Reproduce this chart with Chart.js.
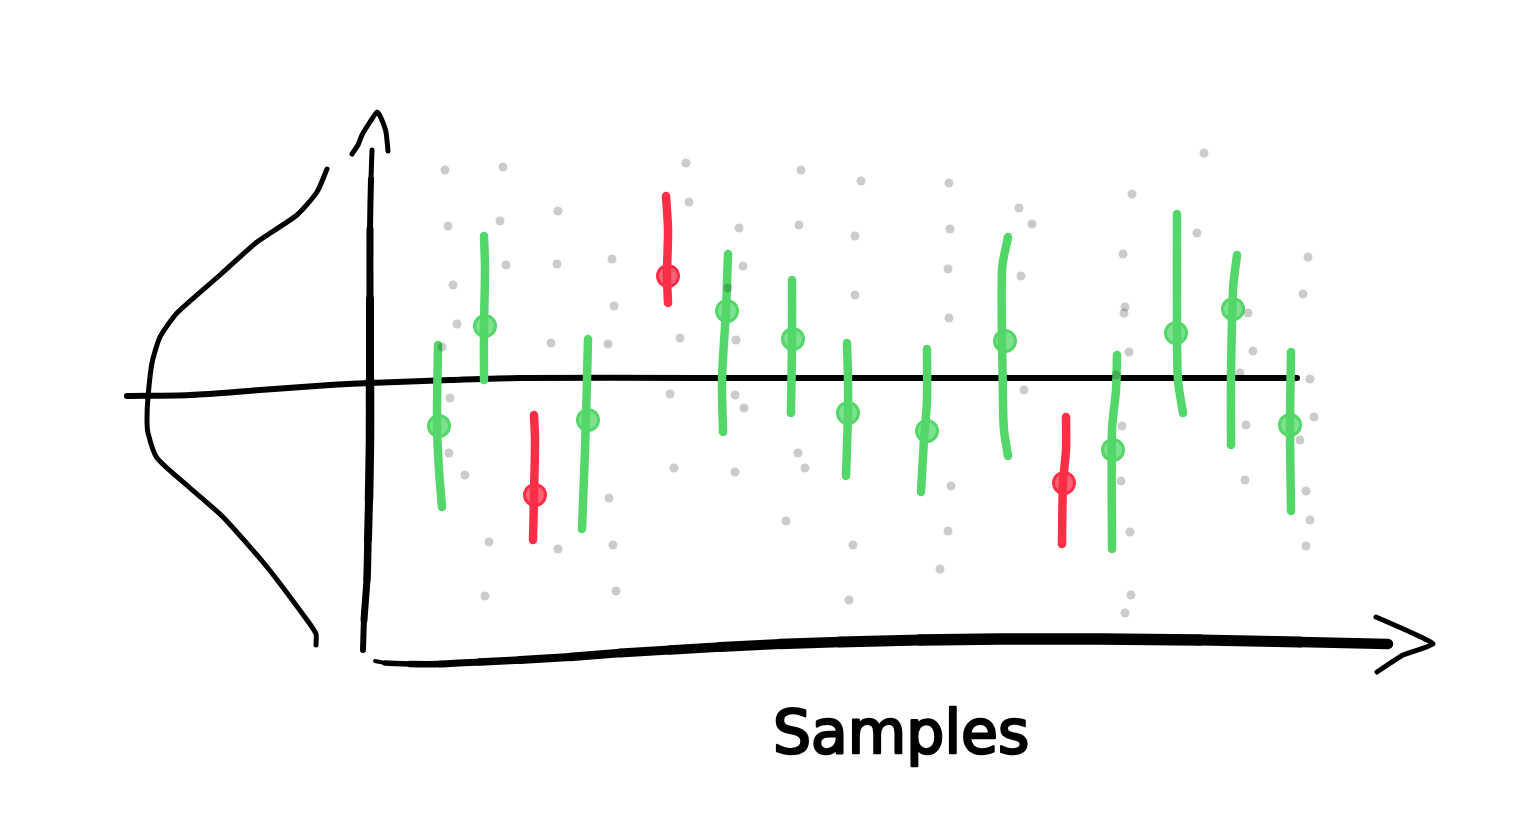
<!DOCTYPE html>
<html>
<head>
<meta charset="utf-8">
<title>Samples</title>
<style>
	html, body { margin: 0; padding: 0; background: #fff; }
	#wrap { width: 1536px; height: 832px; }
</style>
<script src="https://cdn.jsdelivr.net/npm/chart.js@4/dist/chart.umd.js"></script>
</head>
<body>
<div id="wrap"><canvas id="sketch"></canvas></div>
<script>
// x is the position along the samples axis, y the height above the mean line
const sampleX = [445, 503, 448, 500, 558, 506, 557, 453, 612, 614, 457, 442, 551, 608, 450, 449, 465, 489, 485, 558, 613, 616, 609,
	686, 689, 739, 743, 728, 736, 680, 670, 735, 744, 674, 735,
	801, 861, 799, 855, 855, 798, 805, 786, 853, 849, 940,
	949, 950, 948, 949, 951, 948,
	1019, 1032, 1021, 1024,
	1132, 1123, 1125, 1124, 1129, 1116, 1122, 1121, 1130, 1131, 1125,
	1204, 1197, 1248, 1253, 1240, 1246, 1245,
	1308, 1303, 1310, 1314, 1300, 1306, 1310, 1306];
const sampleY = [209, 212, 153, 158, 168, 114, 115, 94, 120, 73, 55, 32, 36, 35, -19, -74, -96, -163, -217, -170, -166, -212, -119,
	216, 177, 151, 113, 91, 39, 41, -15, -16, -29, -89, -93,
	209, 198, 154, 143, 84, -74, -89, -142, -166, -221, -190,
	196, 150, 110, 61, -107, -152,
	171, 155, 103, -11,
	185, 125, 72, 66, 27, 4, -47, -102, -153, -216, -234,
	226, 146, 66, 28, 6, -46, -101,
	122, 85, 0, -38, -61, -112, -141, -167];

const meanX = [439, 485, 535, 588, 668, 727, 793, 848, 927, 1005, 1064, 1113, 1176, 1233, 1290];
const meanY = [-47, 53, -116, -41, 103, 68, 40, -34, -52, 38, -104, -71, 46, 70, -46];
const excludesZero = [false, false, true, false, true, false, false, false, false, false, true, false, false, false, false];

const intervalX = [[438, 437, 439, 442], [484, 485, 484, 484], [534, 535, 534, 533], [588, 587, 585, 582], [666, 668, 667, 668],
	[728, 726, 722, 723], [792, 792, 791], [847, 848, 848, 846], [927, 927, 924, 921], [1008, 1002, 1003, 1004, 1008],
	[1066, 1066, 1063, 1062], [1117, 1116, 1112, 1112], [1177, 1177, 1178, 1183], [1237, 1233, 1231, 1231], [1291, 1290, 1291]];
const intervalY = [[34, -46, -91, -128], [143, 109, 54, -1], [-36, -61, -116, -161], [40, -1, -71, -150], [183, 149, 104, 76],
	[125, 69, -1, -53], [99, 39, -34], [36, -1, -34, -97], [30, -21, -61, -113], [142, 109, -21, -51, -77],
	[-38, -71, -104, -165], [24, -11, -51, -170], [165, 49, -1, -34], [124, 89, -1, -66], [27, -46, -132]];

const zeroLineX = [127, 190, 260, 330, 370, 450, 520, 700, 1297];
const zeroLineY = [-17, -16, -11, -6, -4, -1, 1, 1, 1];

const bellX = [327, 317, 297, 257, 220, 177, 160, 152, 148, 147, 148, 157, 190, 223, 267, 307, 316, 316];
const bellY = [210, 187, 164, 137, 104, 66, 42, 16, -18, -40, -54, -79, -109, -138, -188, -241, -255, -266];

const axisYX = [372, 371, 370, 370, 370, 370, 369, 368, 367, 364, 363];
const axisYY = [229, 200, 150, 80, 0, -60, -121, -160, -200, -241, -271];
const axisYWidths = [5, 6, 7, 8, 8.5, 8.5, 8, 7.5, 7, 6];
const axisYHeadX = [352, 358, 362, 370, 377, 381, 386, 388];
const axisYHeadY = [225, 234, 244, 257, 267, 261, 247, 228];

const axisXX = [375, 385, 410, 440, 480, 520, 570, 620, 670, 720, 780, 840, 920, 1000, 1100, 1200, 1300, 1388];
const axisXY = [-282, -284, -285, -285, -283, -281, -278, -274, -271, -268, -265, -263, -261, -260, -260, -261, -263, -265];
const axisXWidths = [4, 5.5, 6.5, 7, 7.5, 8, 8.5, 9, 9.5, 10, 10.5, 11, 11.5, 11.5, 11.5, 11, 10.5];
const axisXHeadX = [1376, 1410, 1433, 1403, 1377];
const axisXHeadY = [-238, -253, -265, -276, -293];

const axisTitle = 'Samples';
const axisTitleX = 773;
const axisTitleY = -374;

const GREEN = '#53d769';
const RED = '#fc2f47';
const GREEN_FILL = 'rgba(83, 215, 105, 0.75)';
const RED_FILL = 'rgba(252, 47, 71, 0.75)';
const BLACK = '#000000';

function toPoints (xs, ys) {
	return xs.map((x, i) => ({ x: x, y: ys[i] }));
}

function stroke (xs, ys, color, width, tension, widths) {
	const dataset = {
		data: toPoints(xs, ys),
		showLine: true,
		borderColor: color,
		borderWidth: width,
		borderCapStyle: 'round',
		borderJoinStyle: 'round',
		tension: tension,
		pointRadius: 0,
		pointHoverRadius: 0,
		order: 3
	};
	if (widths) {
		dataset.segment = { borderWidth: ctx => widths[ctx.p0DataIndex] };
	}
	return dataset;
}

const datasets = [
	stroke(zeroLineX, zeroLineY, BLACK, 6, 0.3),
	stroke(bellX, bellY, BLACK, 5, 0.2),
	stroke(axisYX, axisYY, BLACK, 6, 0.2, axisYWidths),
	stroke(axisYHeadX, axisYHeadY, BLACK, 5, 0.15),
	stroke(axisXX, axisXY, BLACK, 9, 0.2, axisXWidths),
	stroke(axisXHeadX, axisXHeadY, BLACK, 5, 0.15)
];

intervalX.forEach((xs, i) => {
	const dataset = stroke(xs, intervalY[i], excludesZero[i] ? RED : GREEN, 8.5, 0.3);
	dataset.order = 2;
	datasets.push(dataset);
});

datasets.push({
	data: toPoints(meanX, meanY),
	pointRadius: 10.5,
	pointHoverRadius: 10.5,
	pointBackgroundColor: excludesZero.map(flag => flag ? RED_FILL : GREEN_FILL),
	pointBorderColor: excludesZero.map(flag => flag ? RED : GREEN),
	pointBorderWidth: 3,
	order: 1
});

// samples go on top, they darken whatever they cross
datasets.push({
	data: toPoints(sampleX, sampleY),
	pointRadius: 4.5,
	pointHoverRadius: 4.5,
	pointBackgroundColor: 'rgba(0, 0, 0, 0.2)',
	pointBorderWidth: 0,
	order: 0
});

const axisTitlePlugin = {
	id: 'axisTitle',
	afterDraw (chart) {
		const ctx = chart.ctx;
		ctx.save();
		ctx.font = '60px "DejaVu Sans"';
		ctx.fillStyle = BLACK;
		ctx.strokeStyle = BLACK;
		ctx.lineWidth = 2.5;
		ctx.lineJoin = 'round';
		ctx.textAlign = 'left';
		ctx.textBaseline = 'alphabetic';
		const x = chart.scales.x.getPixelForValue(axisTitleX);
		const y = chart.scales.y.getPixelForValue(axisTitleY);
		ctx.fillText(axisTitle, x, y);
		ctx.strokeText(axisTitle, x, y);
		ctx.restore();
	}
};

new Chart(document.getElementById('sketch'), {
	type: 'scatter',
	data: { datasets: datasets },
	plugins: [axisTitlePlugin],
	options: {
		responsive: true,
		maintainAspectRatio: false,
		animation: false,
		layout: { padding: 0, autoPadding: false },
		plugins: {
			legend: { display: false },
			tooltip: { enabled: false }
		},
		scales: {
			x: { type: 'linear', display: false, min: 0, max: 1536 },
			y: { type: 'linear', display: false, min: -453, max: 379 }
		}
	}
});
</script>
</body>
</html>
